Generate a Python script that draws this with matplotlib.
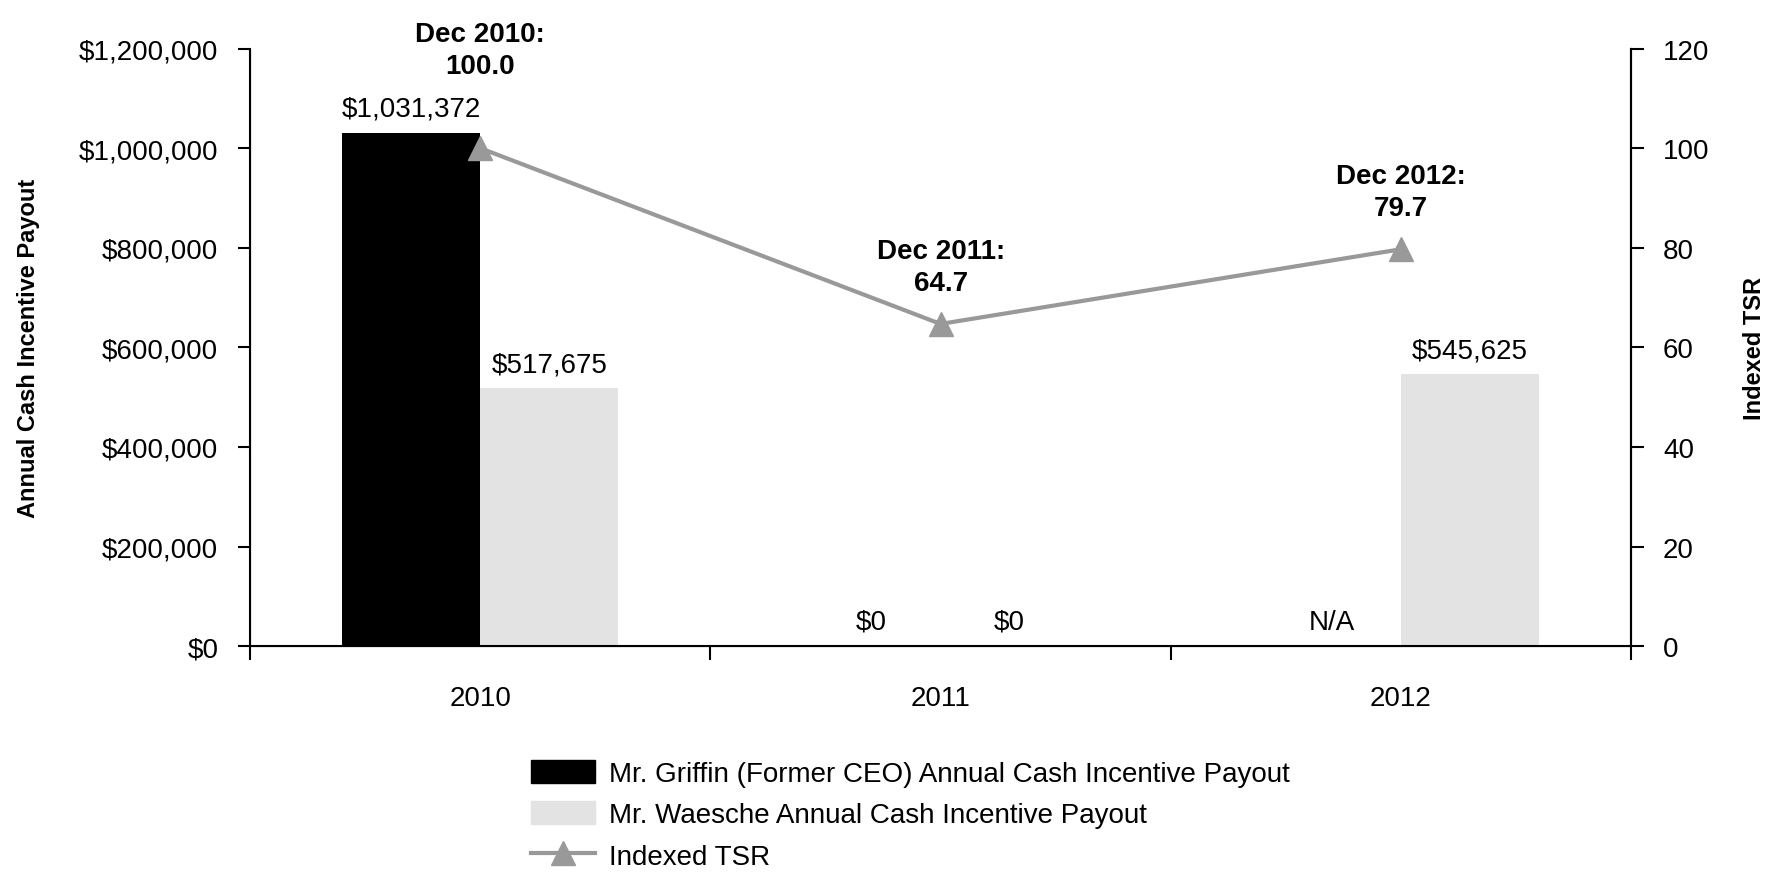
import numpy as np
import matplotlib
matplotlib.use("Agg")
import matplotlib.pyplot as plt
from matplotlib.lines import Line2D
from matplotlib.patches import Patch

plt.rcParams['font.family'] = ['Liberation Sans', 'DejaVu Sans']

years = ["2010", "2011", "2012"]
griffin = [1031372, 0, np.nan]
waesche = [517675, 0, 545625]
griffin_labels = ["$1,031,372", "$0", "N/A"]
waesche_labels = ["$517,675", "$0", "$545,625"]
tsr = [100.0, 64.7, 79.7]
tsr_labels = ["Dec 2010:\n100.0", "Dec 2011:\n64.7", "Dec 2012:\n79.7"]

money_ticks = [0, 200000, 400000, 600000, 800000, 1000000, 1200000]
tsr_ticks = [0, 20, 40, 60, 80, 100, 120]

fig = plt.figure(figsize=(17.67, 8.78), dpi=100)
ax = fig.add_axes([0.1416, 0.263, 0.7814, 0.6805])

x = np.arange(len(years))
w = 0.3
fs = 20

ax.bar(x - w / 2, np.nan_to_num(griffin), w, color="black")
ax.bar(x + w / 2, waesche, w, color="#e3e3e3")

# bar value labels
for i in range(len(years)):
    g = 0 if np.isnan(griffin[i]) else griffin[i]
    ax.annotate(griffin_labels[i], (x[i] - w / 2, g), xytext=(0, 8),
                textcoords="offset points", ha="center", va="bottom", fontsize=fs)
    ax.annotate(waesche_labels[i], (x[i] + w / 2, waesche[i]), xytext=(0, 8),
                textcoords="offset points", ha="center", va="bottom", fontsize=fs)

ax.set_xlim(-0.5, 2.5)
ax.set_ylim(0, 1200000)
ax.set_yticks(money_ticks)
ax.set_yticklabels(["${:,}".format(v) for v in money_ticks], fontsize=fs)
ax.set_xticks(x)
ax.set_xticklabels(years, fontsize=fs)
ax.tick_params(axis="x", length=0, pad=28)
ax.set_xticks([-0.5, 0.5, 1.5, 2.5], minor=True)
ax.tick_params(axis="x", which="minor", length=10, width=1.5, direction="out")
ax.tick_params(axis="y", length=9, width=1.5, direction="out", pad=14)
ax.set_ylabel("Annual Cash Incentive Payout", fontsize=17, fontweight="bold")
ax.yaxis.set_label_coords(-0.152, 0.5)
ax.spines["top"].set_visible(False)
for s in ["left", "right", "bottom"]:
    ax.spines[s].set_linewidth(1.5)

# TSR line on the right axis
ax2 = ax.twinx()
ax2.plot(x, tsr, color="#999999", linewidth=3, marker="^", markersize=17)
ax2.set_ylim(0, 120)
ax2.set_yticks(tsr_ticks)
ax2.set_yticklabels([str(v) for v in tsr_ticks], fontsize=fs)
ax2.tick_params(axis="y", length=9, width=1.5, direction="out", pad=14)
ax2.set_ylabel("Indexed TSR", fontsize=17, fontweight="bold")
ax2.yaxis.set_label_coords(1.081, 0.5)
ax2.spines["top"].set_visible(False)
ax2.spines["right"].set_linewidth(1.5)

offsets = [50, 20, 20]
for i in range(len(years)):
    ax2.annotate(tsr_labels[i], (x[i], tsr[i]), xytext=(0, offsets[i]),
                 textcoords="offset points", ha="center", va="bottom",
                 fontsize=fs, fontweight="bold", linespacing=1.3)

handles = [
    Patch(color="black"),
    Patch(color="#e3e3e3"),
    Line2D([], [], color="#999999", linewidth=3, marker="^", markersize=17),
]
labels = [
    "Mr. Griffin (Former CEO) Annual Cash Incentive Payout",
    "Mr. Waesche Annual Cash Incentive Payout",
    "Indexed TSR",
]
fig.legend(handles, labels, loc="upper left", bbox_to_anchor=(0.2866, 0.162),
           frameon=False, fontsize=fs, handlelength=2.3, handleheight=0.9,
           labelspacing=0.52, handletextpad=0.5)

fig.savefig("out.png", dpi=100)
